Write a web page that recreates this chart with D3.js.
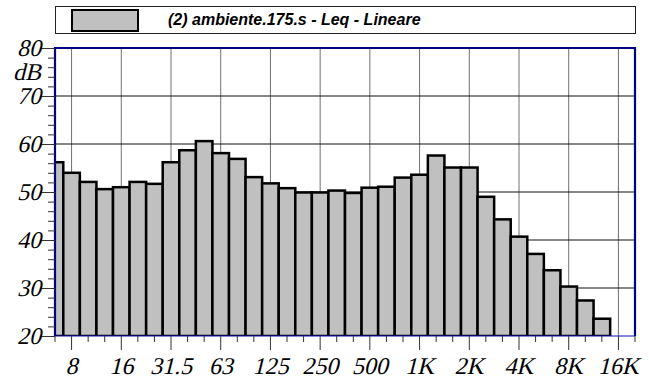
<!DOCTYPE html>
<html>
<head>
<meta charset="utf-8">
<script src="https://cdn.jsdelivr.net/npm/d3@7"></script>
<style>
  body { margin: 0; background: #fff; }
  svg { display: block; }
  svg text.lbl {
    font-family: "Liberation Serif", "Times New Roman", serif;
    font-style: normal;
    font-size: 24px;
    fill: #000;
  }
  svg text.legend {
    font-family: "Liberation Sans", Arial, sans-serif;
    font-style: italic;
    font-weight: bold;
    font-size: 16px;
    fill: #000;
  }
</style>
</head>
<body>
<script>
// third-octave bands, 6.3 Hz .. 20 kHz
var bands = ["6.3", "8", "10", "12.5", "16", "20", "25", "31.5", "40", "50", "63", "80",
  "100", "125", "160", "200", "250", "315", "400", "500", "630", "800",
  "1K", "1.25K", "1.6K", "2K", "2.5K", "3.15K", "4K", "5K", "6.3K", "8K",
  "10K", "12.5K", "16K", "20K"];
var leq = [56.2, 54.0, 52.1, 50.6, 51.0, 52.1, 51.7, 56.2, 58.7, 60.6, 58.1, 56.9,
  53.1, 51.8, 50.8, 49.9, 49.9, 50.3, 49.8, 50.9, 51.1, 53.0,
  53.6, 57.6, 55.1, 55.1, 49.0, 44.3, 40.7, 37.1, 33.7, 30.3,
  27.4, 23.6, 20, 20];
var octaveLabels = ["8", "16", "31.5", "63", "125", "250", "500", "1K", "2K", "4K", "8K", "16K"];
var yTicks = [20, 30, 40, 50, 60, 70, 80];
var legendText = "(2) ambiente.175.s - Leq - Lineare";

var width = 649, height = 381;
// plot box (note: "top" is taken by window.top)
var pLeft = 55, pRight = 635, pTop = 48, pBottom = 336;
var slant = "skewX(-14)"; // serif italic face isn't picked up, so lean it by hand

var svg = d3.select("body").append("svg")
    .attr("width", width)
    .attr("height", height);

var step = (pRight - pLeft) / (bands.length - 1);
var x = d3.scaleBand()
    .domain(bands)
    .range([pLeft - step / 2, pRight + step / 2])
    .padding(0);

var y = d3.scaleLinear()
    .domain([20, 80])
    .range([pBottom, pTop]);

var cx = d => x(d) + x.bandwidth() / 2;

// legend
svg.append("rect")
    .attr("x", pLeft + 0.5).attr("y", 6.5)
    .attr("width", pRight - pLeft).attr("height", 27)
    .attr("fill", "#fff").attr("stroke", "#222");
svg.append("rect")
    .attr("x", 72).attr("y", 10)
    .attr("width", 66).attr("height", 21)
    .attr("fill", "#c0c0c0").attr("stroke", "#000").attr("stroke-width", 2);
svg.append("text")
    .attr("class", "legend")
    .attr("x", 168).attr("y", 25)
    .text(legendText);

// grid
svg.append("g").selectAll("line")
    .data(octaveLabels)
  .enter().append("line")
    .attr("x1", d => cx(d)).attr("x2", d => cx(d))
    .attr("y1", pTop).attr("y2", pBottom)
    .attr("stroke", "#707070");

svg.append("g").selectAll("line")
    .data(yTicks.filter(d => d > 20 && d < 80))
  .enter().append("line")
    .attr("x1", pLeft).attr("x2", pRight)
    .attr("y1", d => y(d)).attr("y2", d => y(d))
    .attr("stroke", "#111");

// bars
svg.append("clipPath").attr("id", "plot")
  .append("rect")
    .attr("x", pLeft).attr("y", pTop)
    .attr("width", pRight - pLeft).attr("height", pBottom - pTop);

svg.append("g")
    .attr("clip-path", "url(#plot)")
  .selectAll("rect")
    .data(bands)
  .enter().append("rect")
    .attr("x", d => x(d))
    .attr("width", x.bandwidth())
    .attr("y", (d, i) => y(leq[i]))
    .attr("height", (d, i) => y(20) - y(leq[i]))
    .attr("fill", "#c0c0c0")
    .attr("stroke", (d, i) => leq[i] > 20 ? "#000" : "none")
    .attr("stroke-width", 2.5);

// frame
svg.append("path")
    .attr("d", "M" + pLeft + "," + pBottom + "V" + pTop + "H" + pRight + "V" + pBottom)
    .attr("fill", "none")
    .attr("stroke", "#000080")
    .attr("stroke-width", 2.2);

// x axis
var xAxis = d3.axisBottom(x)
    .tickSize(6)
    .tickFormat(d => octaveLabels.indexOf(d) >= 0 ? d : "");

var gx = svg.append("g")
    .attr("transform", "translate(0," + pBottom + ")")
    .call(xAxis);
gx.select(".domain").attr("stroke", "#1010c0").attr("d", "M" + pLeft + ",0H" + pRight);
gx.selectAll(".tick line")
    .attr("stroke", "#333")
    .attr("y2", d => octaveLabels.indexOf(d) >= 0 ? 14 : 6);
gx.selectAll(".tick text")
    .attr("class", "lbl")
    .attr("y", 0).attr("dy", 0)
    .attr("transform", "translate(0,38) " + slant);

// y axis
var yAxis = d3.axisLeft(y)
    .tickValues(d3.range(20, 81, 2))
    .tickSize(7)
    .tickPadding(8)
    .tickFormat(d => yTicks.indexOf(d) >= 0 ? d : "");

var gy = svg.append("g")
    .attr("transform", "translate(" + pLeft + ",0)")
    .call(yAxis);
gy.select(".domain").remove();
gy.selectAll(".tick line")
    .attr("stroke", "#333")
    .attr("x2", d => yTicks.indexOf(d) >= 0 ? -15 : -7);
gy.selectAll(".tick text")
    .attr("class", "lbl")
    .attr("x", 0).attr("dy", 0)
    .attr("transform", "translate(-14,7) " + slant);

svg.append("text")
    .attr("class", "lbl")
    .attr("text-anchor", "end")
    .attr("transform", "translate(41,80) " + slant)
    .text("dB");
</script>
</body>
</html>
